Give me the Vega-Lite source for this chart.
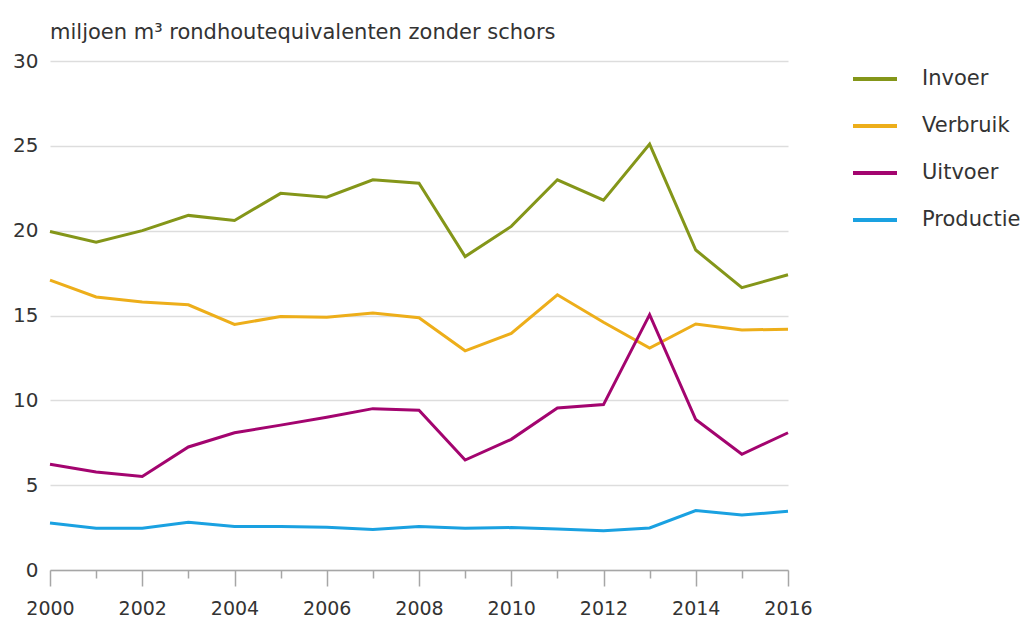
{
  "$schema": "https://vega.github.io/schema/vega-lite/v6.json",
  "width": 738,
  "height": 509,
  "padding": {"left": 12, "top": 22, "right": 5, "bottom": 0},
  "background": "white",
  "title": {
    "text": "miljoen m³ rondhoutequivalenten zonder schors",
    "anchor": "start",
    "frame": "group",
    "font": "DejaVu Sans",
    "fontSize": 21,
    "fontWeight": "normal",
    "color": "#333333",
    "offset": 8
  },
  "config": {
    "view": {"stroke": null},
    "font": "DejaVu Sans"
  },
  "data": {
    "values": [
      {"jaar": 2000, "reeks": "Invoer", "waarde": 19.95},
      {"jaar": 2001, "reeks": "Invoer", "waarde": 19.32},
      {"jaar": 2002, "reeks": "Invoer", "waarde": 20.0},
      {"jaar": 2003, "reeks": "Invoer", "waarde": 20.9},
      {"jaar": 2004, "reeks": "Invoer", "waarde": 20.6},
      {"jaar": 2005, "reeks": "Invoer", "waarde": 22.2},
      {"jaar": 2006, "reeks": "Invoer", "waarde": 21.97},
      {"jaar": 2007, "reeks": "Invoer", "waarde": 23.0},
      {"jaar": 2008, "reeks": "Invoer", "waarde": 22.8},
      {"jaar": 2009, "reeks": "Invoer", "waarde": 18.47},
      {"jaar": 2010, "reeks": "Invoer", "waarde": 20.25},
      {"jaar": 2011, "reeks": "Invoer", "waarde": 23.0},
      {"jaar": 2012, "reeks": "Invoer", "waarde": 21.8},
      {"jaar": 2013, "reeks": "Invoer", "waarde": 25.1},
      {"jaar": 2014, "reeks": "Invoer", "waarde": 18.86},
      {"jaar": 2015, "reeks": "Invoer", "waarde": 16.64},
      {"jaar": 2016, "reeks": "Invoer", "waarde": 17.4},
      {"jaar": 2000, "reeks": "Verbruik", "waarde": 17.08},
      {"jaar": 2001, "reeks": "Verbruik", "waarde": 16.09},
      {"jaar": 2002, "reeks": "Verbruik", "waarde": 15.8},
      {"jaar": 2003, "reeks": "Verbruik", "waarde": 15.63},
      {"jaar": 2004, "reeks": "Verbruik", "waarde": 14.47},
      {"jaar": 2005, "reeks": "Verbruik", "waarde": 14.94},
      {"jaar": 2006, "reeks": "Verbruik", "waarde": 14.9},
      {"jaar": 2007, "reeks": "Verbruik", "waarde": 15.14},
      {"jaar": 2008, "reeks": "Verbruik", "waarde": 14.87},
      {"jaar": 2009, "reeks": "Verbruik", "waarde": 12.92},
      {"jaar": 2010, "reeks": "Verbruik", "waarde": 13.94},
      {"jaar": 2011, "reeks": "Verbruik", "waarde": 16.22},
      {"jaar": 2012, "reeks": "Verbruik", "waarde": 14.6},
      {"jaar": 2013, "reeks": "Verbruik", "waarde": 13.08},
      {"jaar": 2014, "reeks": "Verbruik", "waarde": 14.5},
      {"jaar": 2015, "reeks": "Verbruik", "waarde": 14.15},
      {"jaar": 2016, "reeks": "Verbruik", "waarde": 14.19},
      {"jaar": 2000, "reeks": "Uitvoer", "waarde": 6.23},
      {"jaar": 2001, "reeks": "Uitvoer", "waarde": 5.78},
      {"jaar": 2002, "reeks": "Uitvoer", "waarde": 5.51},
      {"jaar": 2003, "reeks": "Uitvoer", "waarde": 7.25},
      {"jaar": 2004, "reeks": "Uitvoer", "waarde": 8.09},
      {"jaar": 2005, "reeks": "Uitvoer", "waarde": 8.54},
      {"jaar": 2006, "reeks": "Uitvoer", "waarde": 9.0},
      {"jaar": 2007, "reeks": "Uitvoer", "waarde": 9.51},
      {"jaar": 2008, "reeks": "Uitvoer", "waarde": 9.41},
      {"jaar": 2009, "reeks": "Uitvoer", "waarde": 6.48},
      {"jaar": 2010, "reeks": "Uitvoer", "waarde": 7.7},
      {"jaar": 2011, "reeks": "Uitvoer", "waarde": 9.55},
      {"jaar": 2012, "reeks": "Uitvoer", "waarde": 9.75},
      {"jaar": 2013, "reeks": "Uitvoer", "waarde": 15.05},
      {"jaar": 2014, "reeks": "Uitvoer", "waarde": 8.87},
      {"jaar": 2015, "reeks": "Uitvoer", "waarde": 6.82},
      {"jaar": 2016, "reeks": "Uitvoer", "waarde": 8.09},
      {"jaar": 2000, "reeks": "Productie", "waarde": 2.77},
      {"jaar": 2001, "reeks": "Productie", "waarde": 2.46},
      {"jaar": 2002, "reeks": "Productie", "waarde": 2.46},
      {"jaar": 2003, "reeks": "Productie", "waarde": 2.81},
      {"jaar": 2004, "reeks": "Productie", "waarde": 2.56},
      {"jaar": 2005, "reeks": "Productie", "waarde": 2.56},
      {"jaar": 2006, "reeks": "Productie", "waarde": 2.52},
      {"jaar": 2007, "reeks": "Productie", "waarde": 2.38},
      {"jaar": 2008, "reeks": "Productie", "waarde": 2.56},
      {"jaar": 2009, "reeks": "Productie", "waarde": 2.46},
      {"jaar": 2010, "reeks": "Productie", "waarde": 2.5},
      {"jaar": 2011, "reeks": "Productie", "waarde": 2.42},
      {"jaar": 2012, "reeks": "Productie", "waarde": 2.32},
      {"jaar": 2013, "reeks": "Productie", "waarde": 2.48},
      {"jaar": 2014, "reeks": "Productie", "waarde": 3.5},
      {"jaar": 2015, "reeks": "Productie", "waarde": 3.24},
      {"jaar": 2016, "reeks": "Productie", "waarde": 3.46}
    ]
  },
  "mark": {"type": "line", "strokeWidth": 3, "strokeJoin": "miter"},
  "encoding": {
    "x": {
      "field": "jaar",
      "type": "quantitative",
      "scale": {"domain": [2000, 2016], "nice": false, "zero": false},
      "axis": {
        "title": null,
        "values": [2000, 2001, 2002, 2003, 2004, 2005, 2006, 2007, 2008, 2009, 2010, 2011, 2012, 2013, 2014, 2015, 2016],
        "labelExpr": "datum.value % 2 == 0 ? datum.value : ''",
        "grid": false,
        "domainColor": "#a6a6a6",
        "domainWidth": 1.5,
        "tickColor": "#a6a6a6",
        "tickWidth": 1.5,
        "tickSize": {"condition": {"test": "datum.value % 2 == 0", "value": 16}, "value": 8},
        "labelFontSize": 19,
        "labelColor": "#333333",
        "labelPadding": 13,
        "labelFlush": false,
        "labelOverlap": false
      }
    },
    "y": {
      "field": "waarde",
      "type": "quantitative",
      "scale": {"domain": [0, 30], "nice": false},
      "axis": {
        "title": null,
        "values": [0, 5, 10, 15, 20, 25, 30],
        "domain": false,
        "ticks": false,
        "gridColor": "#dddddd",
        "gridWidth": 1.5,
        "labelFontSize": 20,
        "labelColor": "#333333",
        "labelPadding": 12
      }
    },
    "color": {
      "field": "reeks",
      "type": "nominal",
      "scale": {
        "domain": ["Invoer", "Verbruik", "Uitvoer", "Productie"],
        "range": ["#849619", "#edae1a", "#a3046f", "#1aa1e1"]
      },
      "legend": {
        "title": null,
        "orient": "none",
        "legendX": 801,
        "legendY": -6,
        "symbolType": "stroke",
        "symbolSize": 1936,
        "symbolStrokeWidth": 4,
        "labelFontSize": 21,
        "labelColor": "#333333",
        "labelOffset": 23,
        "rowPadding": 13
      }
    }
  }
}
